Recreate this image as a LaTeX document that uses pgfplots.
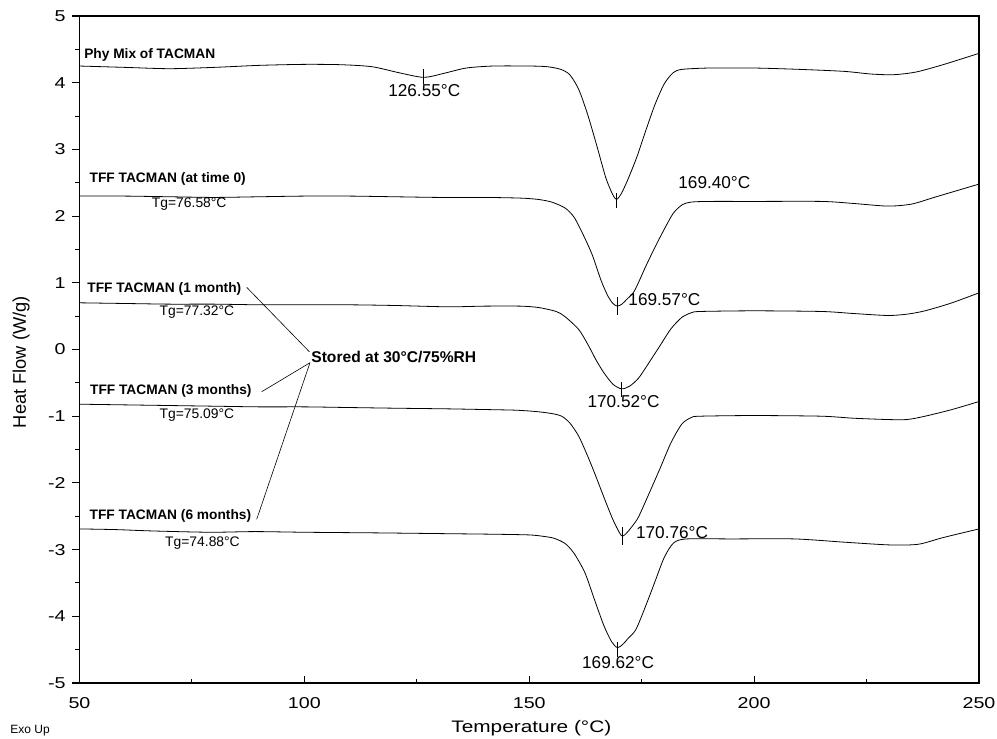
\documentclass[border=0pt]{standalone}
\usepackage{fontspec}
\setmainfont{Liberation Sans}
\newfontfamily\widefont[FakeStretch=1.25]{Liberation Sans}
\usepackage{pgfplots}
\pgfplotsset{compat=1.18}
\begin{document}
\begin{tikzpicture}[x=1pt,y=1pt]
\useasboundingbox (-59.625,-42) rectangle (688.125,512.25);
\begin{axis}[
 at={(0pt,0pt)}, anchor=south west,
 scale only axis, width=674.625pt, height=500.25pt,
 xmin=50,xmax=250,ymin=-5,ymax=5,
 xtick={50,100,150,200,250}, ytick={-5,-4,-3,-2,-1,0,1,2,3,4,5},
 xticklabels={50,100,150,200,250},
 yticklabels={-5,-4,-3,-2,-1,0,1,2,3,4,5},
 minor xtick={75,125,175,225},
 minor ytick={-4.5,-3.5,-2.5,-1.5,-0.5,0.5,1.5,2.5,3.5,4.5},
 xtick pos=bottom, ytick pos=left,
 xtick align=inside, ytick align=outside,
 major tick length=5.5pt, minor tick length=3pt,
 tick style={black, line width=0.8pt},
 axis line style={line width=1pt},
 ticklabel style={font=\widefont\fontsize{11.8}{13}\selectfont},
 xticklabel style={anchor=base, inner sep=0pt, yshift=-19pt},
 yticklabel style={anchor=east, inner sep=0pt, xshift=-4.7pt},
 clip=false,
]
% Phy Mix
\addplot[black, line width=0.6pt, smooth, tension=0.45] coordinates {
(50,4.25) (60,4.23) (70,4.21) (80,4.23) (90,4.26) (100,4.275) (108,4.27) (115,4.24) (121,4.15) (126.55,4.08) (131,4.14) (136,4.22) (142,4.25) (150,4.25) (154,4.24) (157,4.2) (159,4.12) (161,3.9) (163,3.52) (165,3.06) (167,2.58) (168.5,2.33) (169.4,2.25) (170.5,2.34) (172,2.56) (174,2.9) (176,3.3) (178,3.68) (180,3.98) (182,4.15) (184,4.2) (190,4.22) (200,4.22) (210,4.2) (220,4.17) (226,4.13) (231,4.12) (236,4.16) (242,4.27) (250,4.44)};
% time 0
\addplot[black, line width=0.6pt, smooth, tension=0.45] coordinates {
(50,2.30) (60,2.30) (70,2.29) (80,2.28) (90,2.29) (100,2.30) (110,2.30) (120,2.29) (130,2.28) (140,2.28) (148,2.27) (152,2.25) (155,2.21) (158,2.12) (160,1.98) (162,1.72) (164,1.42) (166,1.03) (167.5,0.80) (168.6,0.69) (169.57,0.65) (170.6,0.68) (171.8,0.76) (173.4,0.88) (176,1.26) (178,1.54) (180,1.80) (182,2.04) (184,2.17) (186,2.21) (190,2.22) (200,2.22) (215,2.22) (222,2.19) (229.7,2.15) (235,2.18) (240,2.28) (245,2.38) (250,2.48)};
% 1 month
\addplot[black, line width=0.6pt, smooth, tension=0.45] coordinates {
(50,0.70) (60,0.69) (70,0.68) (80,0.68) (90,0.67) (100,0.67) (110,0.67) (120,0.66) (132,0.64) (140,0.65) (148,0.65) (152,0.63) (156,0.57) (158,0.49) (161,0.30) (163,0.08) (164.8,-0.15) (166.5,-0.34) (168.6,-0.52) (170.52,-0.59) (172.3,-0.55) (174.3,-0.43) (176.5,-0.21) (179.1,0.06) (181.5,0.31) (183.9,0.48) (186,0.55) (188,0.57) (200,0.58) (215,0.57) (222,0.54) (229.7,0.51) (234,0.53) (238,0.58) (244,0.70) (250,0.85)};
% 3 months
\addplot[black, line width=0.6pt, smooth, tension=0.45] coordinates {
(50,-0.82) (60,-0.83) (70,-0.84) (80,-0.85) (90,-0.86) (100,-0.86) (110,-0.87) (120,-0.88) (132,-0.89) (140,-0.90) (147,-0.91) (151.5,-0.93) (155,-0.96) (157.2,-1.0) (159,-1.1) (161,-1.30) (163,-1.60) (164.8,-1.90) (166.8,-2.25) (168.6,-2.55) (170,-2.74) (170.76,-2.80) (171.8,-2.74) (173,-2.64) (174.3,-2.51) (176.7,-2.15) (179.1,-1.78) (181.5,-1.40) (183.9,-1.12) (186,-1.02) (188,-1.0) (200,-0.99) (215,-1.0) (222,-1.03) (229.7,-1.05) (234,-1.05) (238,-1.0) (244,-0.90) (250,-0.78)};
% 6 months
\addplot[black, line width=0.6pt, smooth, tension=0.45] coordinates {
(50,-2.69) (58,-2.70) (66,-2.72) (79,-2.74) (89,-2.73) (100,-2.74) (117,-2.75) (130,-2.76) (142.6,-2.77) (150,-2.78) (153,-2.80) (155.5,-2.83) (158,-2.91) (160,-3.06) (162.4,-3.35) (164.5,-3.75) (166.6,-4.14) (168.3,-4.38) (169.62,-4.47) (170.8,-4.42) (172,-4.33) (173.7,-4.20) (175.8,-3.86) (177.9,-3.49) (180,-3.12) (182.1,-2.90) (185,-2.84) (195,-2.84) (209,-2.84) (220.3,-2.89) (230.2,-2.93) (236.5,-2.92) (242,-2.82) (250,-2.69)};
% peak markers
\addplot[black, line width=0.5pt] coordinates {(126.55,3.98) (126.55,4.20)};
\addplot[black, line width=0.5pt] coordinates {(169.40,2.12) (169.40,2.35)};
\addplot[black, line width=0.5pt] coordinates {(169.57,0.52) (169.57,0.79)};
\addplot[black, line width=0.5pt] coordinates {(170.52,-0.71) (170.52,-0.48)};
\addplot[black, line width=0.5pt] coordinates {(170.76,-2.93) (170.76,-2.66)};
\addplot[black, line width=0.5pt] coordinates {(169.62,-4.61) (169.62,-4.38)};
% leader lines
\addplot[black, line width=0.45pt] coordinates {(87.18,0.932) (101.1,-0.033)};
\addplot[black, line width=0.45pt] coordinates {(90.51,-0.633) (101.25,-0.198)};
\addplot[black, line width=0.45pt] coordinates {(89.4,-2.546) (101.25,-0.198)};
% labels
\begin{scope}[every node/.style={inner sep=0pt, anchor=west}]
\node[font=\bfseries\fontsize{10.3}{12}\selectfont] at (axis cs:51.0,4.42) {Phy Mix of TACMAN};
\node[font=\bfseries\fontsize{10.3}{12}\selectfont] at (axis cs:52.2,2.55) {TFF TACMAN (at time 0)};
\node[font=\bfseries\fontsize{10.3}{12}\selectfont] at (axis cs:51.7,0.91) {TFF TACMAN (1 month)};
\node[font=\bfseries\fontsize{10.3}{12}\selectfont] at (axis cs:52.3,-0.62) {TFF TACMAN (3 months)};
\node[font=\bfseries\fontsize{10.3}{12}\selectfont] at (axis cs:52.2,-2.49) {TFF TACMAN (6 months)};
\node[font=\fontsize{10.4}{12}\selectfont] at (axis cs:66.05,2.18) {Tg=76.58°C};
\node[font=\fontsize{10.4}{12}\selectfont] at (axis cs:67.75,0.56) {Tg=77.32°C};
\node[font=\fontsize{10.4}{12}\selectfont] at (axis cs:67.75,-0.98) {Tg=75.09°C};
\node[font=\fontsize{10.4}{12}\selectfont] at (axis cs:69.0,-2.91) {Tg=74.88°C};
\node[font=\bfseries\fontsize{11.7}{14}\selectfont] at (axis cs:101.5,-0.11) {Stored at 30°C/75\%RH};
\node[font=\fontsize{12.9}{14}\selectfont] at (axis cs:118.6,3.88) {126.55°C};
\node[font=\fontsize{12.9}{14}\selectfont] at (axis cs:183.1,2.50) {169.40°C};
\node[font=\fontsize{12.9}{14}\selectfont] at (axis cs:172.0,0.75) {169.57°C};
\node[font=\fontsize{12.9}{14}\selectfont] at (axis cs:162.9,-0.78) {170.52°C};
\node[font=\fontsize{12.9}{14}\selectfont] at (axis cs:173.7,-2.74) {170.76°C};
\node[font=\fontsize{12.9}{14}\selectfont] at (axis cs:161.7,-4.70) {169.62°C};
\end{scope}
\node[font=\fontsize{13.7}{16}\selectfont, rotate=90] at (axis description cs:-0.065,0.481) {Heat Flow (W/g)};
\node[font=\widefont\fontsize{12.5}{15}\selectfont] at (axis description cs:0.5023,-0.0682) {Temperature (°C)};
\node[font=\fontsize{9}{11}\selectfont] at (axis description cs:-0.055,-0.072) {Exo Up};
\end{axis}
\end{tikzpicture}
\end{document}
